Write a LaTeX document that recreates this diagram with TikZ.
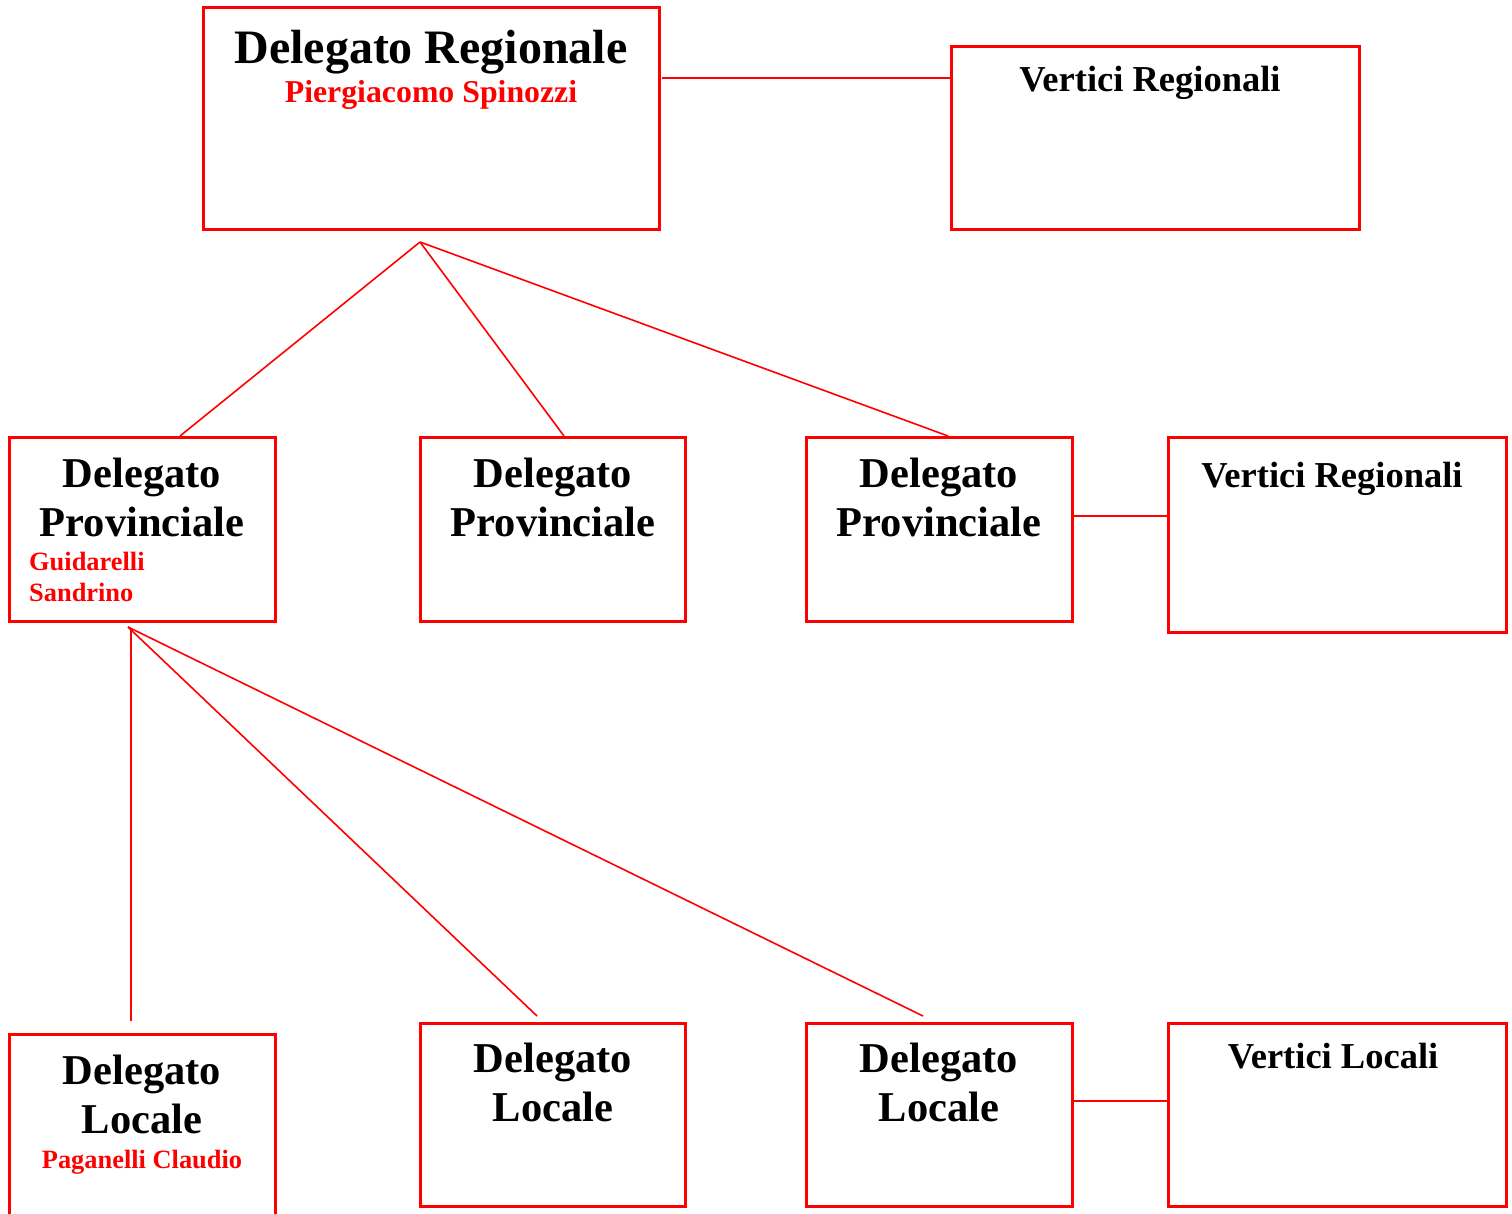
\documentclass[tikz,border=0pt]{standalone}
\usepackage{fontspec}
\setmainfont{Liberation Serif}
\begin{document}
\begin{tikzpicture}[x=1pt,y=-1pt,
  box/.style={draw=red,line width=3pt,inner sep=0pt},
  link/.style={draw=red,line width=1.6pt},
  ttl/.style={anchor=base,inner sep=0pt,font=\bfseries\fontsize{42.5}{42.5}\selectfont},
  big/.style={anchor=base,inner sep=0pt,font=\bfseries\fontsize{48}{48}\selectfont},
  vtx/.style={anchor=base,inner sep=0pt,font=\bfseries\fontsize{36.5}{36.5}\selectfont},
  nm/.style={anchor=base,inner sep=0pt,text=red,font=\bfseries\fontsize{26.4}{26.4}\selectfont}]
\useasboundingbox (0,0) rectangle (1512,1214);
% boxes
\path[box] (203,8) rectangle (659,230) node[coordinate] (drbr) {};
\path[box] (951,47) rectangle (1359,230);
\path[box] (9,437) rectangle (275,621);
\path[box] (420,437) rectangle (685,621);
\path[box] (806,437) rectangle (1072,621);
\path[box] (1168,437) rectangle (1506,632);
\path[box] (9,1034) rectangle (275,1230);
\path[box] (420,1023) rectangle (685,1206);
\path[box] (806,1023) rectangle (1072,1206);
\path[box] (1168,1023) rectangle (1506,1206);
% named anchor points
\coordinate (drR) at (662,78);
\coordinate (vr1L) at (951,78);
\coordinate (drB) at (420,242);
\coordinate (dp1T) at (180,436);
\coordinate (dp2T) at (564,436);
\coordinate (dp3T) at (948,436);
\coordinate (dp3R) at (1072,516);
\coordinate (vr2L) at (1168,516);
\coordinate (dp1B) at (128,627);
\coordinate (vstart) at (131,630);
\coordinate (dl1T) at (131,1021);
\coordinate (dl2T) at (537,1016);
\coordinate (dl3T) at (923,1016);
\coordinate (dl3R) at (1072,1101);
\coordinate (vlL) at (1168,1101);
% connectors
\draw[link] (drR) -- (vr1L);
\draw[link] (drB) -- (dp1T);
\draw[link] (drB) -- (dp2T);
\draw[link] (drB) -- (dp3T);
\draw[link] (dp3R) -- (vr2L);
\draw[link] (vstart) -- (dl1T);
\draw[link] (dp1B) -- (dl2T);
\draw[link] (dp1B) -- (dl3T);
\draw[link] (dl3R) -- (vlL);
% texts
\node[big] (t1) at (431,64) {Delegato Regionale};
\node[nm,font=\bfseries\fontsize{31.8}{31.8}\selectfont] (t2) at (431,103) {Piergiacomo Spinozzi};
\node[vtx] (t3) at (1150,92) {Vertici Regionali};
\node[ttl] (t4) at (142,487) {Delegato};
\node[ttl] (t5) at (142,536) {Provinciale};
\node[nm,anchor=base west] (t6) at (29,570) {Guidarelli};
\node[nm,anchor=base west] (t7) at (29,601) {Sandrino};
\node[ttl] (t8) at (553,487) {Delegato};
\node[ttl] (t9) at (553,536) {Provinciale};
\node[ttl] (t10) at (939,487) {Delegato};
\node[ttl] (t11) at (939,536) {Provinciale};
\node[vtx] (t12) at (1332,487) {Vertici Regionali};
\node[ttl] (t13) at (142,1084) {Delegato};
\node[ttl] (t14) at (142,1133) {Locale};
\node[nm] (t15) at (142,1168) {Paganelli Claudio};
\node[ttl] (t16) at (553,1072) {Delegato};
\node[ttl] (t17) at (553,1121) {Locale};
\node[ttl] (t18) at (939,1072) {Delegato};
\node[ttl] (t19) at (939,1121) {Locale};
\node[vtx] (t20) at (1333,1068) {Vertici Locali};
\end{tikzpicture}
\end{document}
